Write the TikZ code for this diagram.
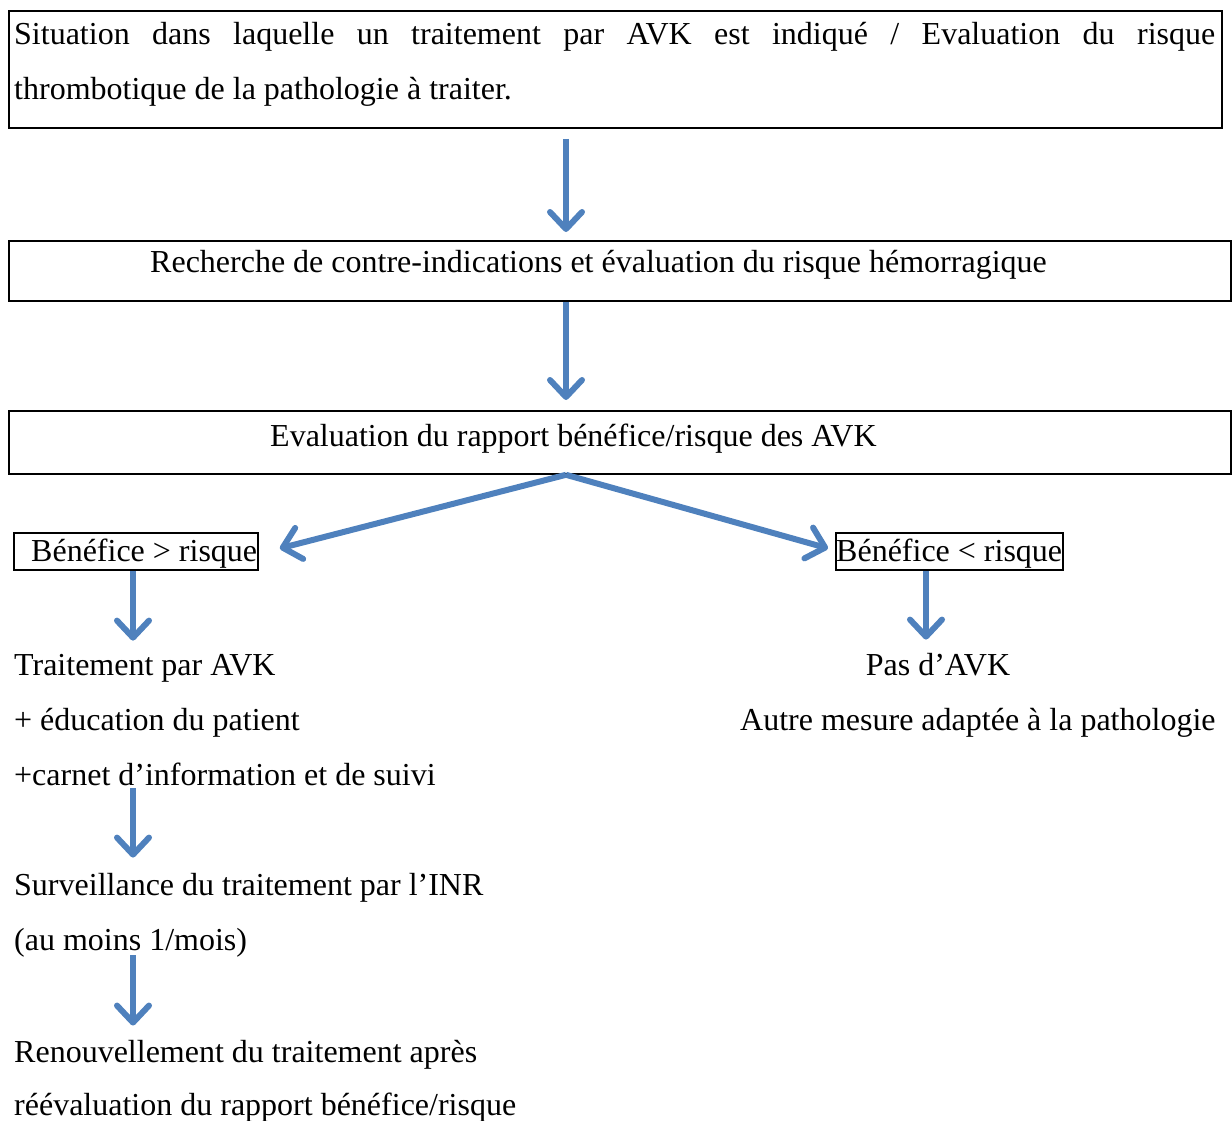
\documentclass[tikz,border=0pt]{standalone}
\usepackage{fontspec}
\setmainfont{Liberation Serif}
\usetikzlibrary{arrows.meta,calc}
\definecolor{arrblue}{HTML}{4F81BD}
\begin{document}
\begin{tikzpicture}[x=1pt,y=-1pt,
  box/.style={draw,line width=1.8pt,inner sep=0pt,anchor=north west},
  txt/.style={inner sep=0pt,anchor=base west,font=\fontsize{32}{40}\selectfont},
  arr/.style={draw=arrblue,line width=6pt,-{Straight Barb[length=17pt,width=32pt,round]}},
]
\useasboundingbox (0,0) rectangle (1232,1121);
\coordinate (cx) at (566,0);
\coordinate (xl) at (133,0);
\coordinate (xr) at (926,0);
% boxes
\node[box,minimum width=1213pt,minimum height=117pt] (b1) at (8,10) {};
\node[box,minimum width=1222pt,minimum height=60pt] (b2) at (8,240) {};
\node[box,minimum width=1222pt,minimum height=63pt] (b3) at (8,410) {};
\node[box,minimum width=244pt,minimum height=37pt] (b4) at (13,532) {};
\node[box,minimum width=227pt,minimum height=37pt] (b5) at (835,532) {};
% texts
\node[txt] (t1) at (14,45) {\makebox[1201pt][s]{Situation dans laquelle un traitement par AVK est indiqué / Evaluation du risque}};
\node[txt] (t1b) at (14,100) {thrombotique de la pathologie à traiter.};
\node[txt] (t2) at (150,272) {Recherche de contre-indications et évaluation du risque hémorragique};
\node[txt] (t3) at (270,446) {Evaluation du rapport bénéfice/risque des AVK};
\node[txt] (t4) at (31,561) {Bénéfice > risque};
\node[txt] (t5) at (836,561) {Bénéfice < risque};
\node[txt] (t6) at (14,675) {Traitement par AVK};
\node[txt] (t7) at (14,730) {+ éducation du patient};
\node[txt] (t8) at (14,785) {+carnet d’information et de suivi};
\node[txt] (t9) at (14,895) {Surveillance du traitement par l’INR};
\node[txt] (t10) at (14,950) {(au moins 1/mois)};
\node[txt] (t11) at (14,1062) {Renouvellement du traitement après};
\node[txt] (t12) at (14,1115) {réévaluation du rapport bénéfice/risque};
\node[txt,anchor=base] (t13) at (938,675) {Pas d’AVK};
\node[txt] (t14) at (740,730) {Autre mesure adaptée à la pathologie};
% arrows
\draw[arr] ($(b1.south -| cx)+(0,10)$) -- ($(b2.north -| cx)+(0,-8)$);
\draw[arr] (b2.south -| cx) -- ($(b3.north -| cx)+(0,-10)$);
\draw[arr] (b3.south -| cx) -- ($(b4.east)+(21,-3)$);
\draw[arr] (b3.south -| cx) -- ($(b5.west)+(-7,-3)$);
\draw[arr] (b4.south -| xl) -- ($(t6.north -| xl)+(0,-13)$);
\draw[arr] (b5.south -| xr) -- ($(t13.north -| xr)+(0,-13)$);
\draw[arr] ($(t8.base -| xl)+(0,3)$) -- ($(t9.north -| xl)+(0,-15)$);
\draw[arr] ($(t10.base -| xl)+(0,5)$) -- ($(t11.north -| xl)+(0,-14)$);
\end{tikzpicture}
\end{document}
